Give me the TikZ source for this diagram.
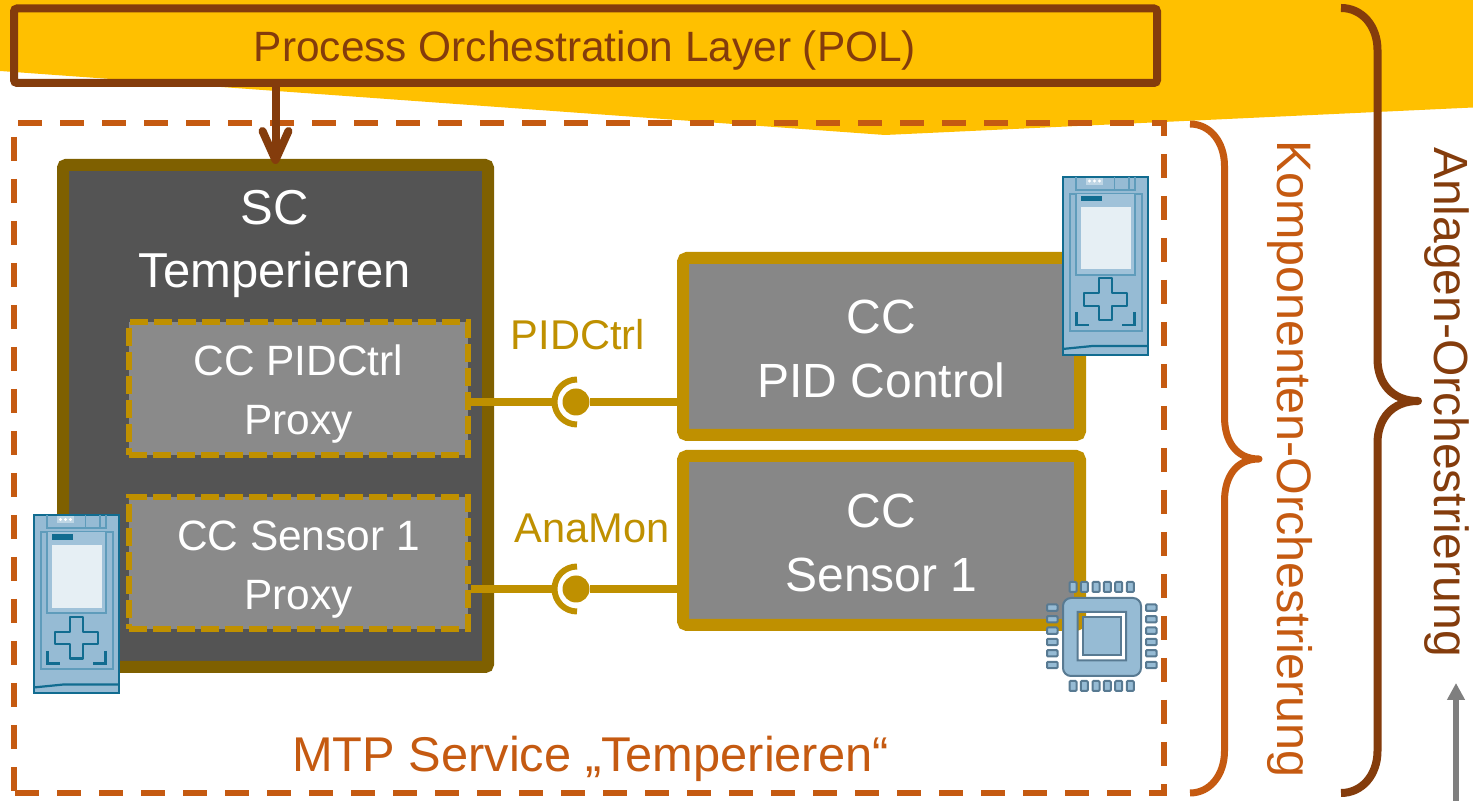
\documentclass[tikz,border=0pt]{standalone}
\usepackage{fontspec}
\setmainfont{Liberation Sans}
\usetikzlibrary{arrows.meta,calc}
\definecolor{polyellow}{HTML}{FFC000}
\definecolor{darkbrown}{HTML}{843C0C}
\definecolor{rust}{HTML}{C55A11}
\definecolor{gold}{HTML}{BF9000}
\definecolor{olivebrown}{HTML}{7F6000}
\definecolor{scfill}{HTML}{545454}
\definecolor{proxyfill}{HTML}{8A8A8A}
\definecolor{ccfill}{HTML}{878787}
\definecolor{plcbody}{HTML}{96BBD4}
\definecolor{plcpanel}{HTML}{A0C2D9}
\definecolor{plcdark}{HTML}{116C90}
\definecolor{plcmid}{HTML}{5F9CBB}
\definecolor{plcscreen}{HTML}{E6EFF4}
\definecolor{plctab}{HTML}{BFD6E5}
\definecolor{chipedge}{HTML}{587A92}
\definecolor{arrowgray}{HTML}{7F7F7F}
\tikzset{
  sized/.style 2 args={minimum width=#1*0.5pt,minimum height=#2*0.5pt,inner sep=0pt},
  bigtext/.style={font=\fontsize{24}{32}\selectfont},
  widetext/.style={font=\fontsize{24.5}{32}\selectfont},
  midtext/.style={font=\fontsize{21.2}{29.5}\selectfont},
  sidetext/.style={font=\fontsize{20.8}{29.5}\selectfont},
  scbox/.style={draw=olivebrown,fill=scfill,line width=6pt,rounded corners=1.5pt,text=white},
  proxybox/.style={draw=gold,fill=proxyfill,line width=3pt,dash pattern=on 9pt off 3pt,text=white,midtext,align=center},
  ccbox/.style={draw=gold,fill=ccfill,line width=6pt,rounded corners=2pt,text=white,bigtext,align=center},
  conn/.style={draw=gold,line width=4pt},
  ball/.style={circle,fill=gold,minimum size=13.5pt,inner sep=0pt},
  socket/.style={draw=gold,line width=3pt},
  boundary/.style={draw=rust,line width=3pt,dash pattern=on 12pt off 9pt},
  bracket/.style={line width=#1,line join=round},
  plc/.pic={
    \draw[plcdark,fill=plcbody,line width=1pt] (1,1) rectangle (86,179);
    \draw[plcmid,line width=1pt] (14.3,1) -- (14.3,14) -- (73.7,14) -- (73.7,1);
    \draw[plcmid,line width=.8pt] (53,1) -- (53,14) (67.7,1) -- (67.7,14);
    \fill[plctab] (24.3,1.7) rectangle (41,9);
    \fill[white] (28,5) circle (1.6) (33,5) circle (1.6) (38,5) circle (1.6);
    \draw[plcmid,line width=1pt] (8.3,18) rectangle (80.3,154.7);
    \draw[plcmid,fill=plcpanel,line width=1pt] (14.3,18) -- (14.3,99) -- (73.7,99) -- (73.7,18);
    \fill[plcdark] (19.3,20) rectangle (40.7,25.3);
    \fill[plcscreen] (19.3,30.7) rectangle (69,93.3);
    \draw[plcdark,line width=1.1pt,line join=round] (37.3,117.3) -- (37.3,102.3) -- (50.7,102.3) -- (50.7,117.3) -- (65.7,117.3) -- (65.7,129.7) -- (50.7,129.7) -- (50.7,144) -- (37.3,144) -- (37.3,129.7) -- (22.7,129.7) -- (22.7,117.3) -- cycle;
    \draw[plcdark,line width=1.1pt] (15,136.3) -- (15,149) -- (27.7,149);
    \draw[plcdark,line width=1.1pt] (73,136.3) -- (73,149) -- (60.3,149);
    \draw[plcdark,line width=1.1pt] (1,173) -- (31,170) -- (86,170);
  },
  chippin/.style={draw=chipedge,fill=plcbody,line width=1pt,rounded corners=.5pt},
}
\begin{document}
\begin{tikzpicture}[x=0.5pt,y=-0.5pt]
\useasboundingbox (0,0) rectangle (1473,801);
\fill[white] (0,0) rectangle (1473,801);
% yellow band
\fill[polyellow] (0,0) -- (1473,0) -- (1473,107.5) -- (885,135) -- (0,71) -- cycle;
% boundary of the MTP service
\path[boundary] (18,123.5) -- (1163.5,123.5) -- (1163.5,793) -- (14,793);
\path[boundary] (14,137) -- (14,791);
% POL
\node[draw=darkbrown,line width=4pt,rounded corners=1.5pt,sized={1143}{74.5}] (pol) at (585.5,45.75) {};
\node[anchor=base,text=darkbrown,midtext] (poltext) at (585,62) {Process Orchestration Layer (POL)};
% SC
\node[scbox,sized={425}{502}] (sc) at (275.5,416) {};
\node[anchor=base,text=white,widetext] (sctext) at (275,225) {SC};
\node[anchor=base,text=white,widetext] (sctext2) at (275,288) {Temperieren};
% arrow from POL to SC
\coordinate (scin) at (275.5,164);
\draw[darkbrown,line width=4pt,-{Straight Barb[length=14.5pt,width=13pt,line width=4pt,round]}] (pol.south -| scin) -- (scin);
% proxies
\node[proxybox,sized={339}{132.5}] (proxyA) at (298.5,388.75) {\rule{0pt}{21pt}CC PIDCtrl\\Proxy};
\node[proxybox,sized={339}{131.5}] (proxyB) at (298.5,563.25) {\rule{0pt}{21pt}CC Sensor 1\\Proxy};
% component boxes
\node[ccbox,sized={397}{177}] (ccA) at (881.5,346.5) {\rule{0pt}{19pt}CC\\PID Control};
\node[ccbox,sized={397}{169}] (ccB) at (881.5,540.5) {\rule{0pt}{19pt}CC\\Sensor 1};
% interfaces
\node[ball] (ballA) at (576,402) {};
\node[ball] (ballB) at (576,589) {};
\coordinate (arcA) at (555,402);
\coordinate (arcB) at (555,589);
\draw[conn] (proxyA.east |- arcA) -- (arcA);
\draw[conn] (ballA) -- (ballA -| ccA.west);
\draw[conn] (proxyB.east |- arcB) -- (arcB);
\draw[conn] (ballB) -- (ballB -| ccB.west);
\draw[socket] (577,379.5) arc[start angle=-90,end angle=-270,radius=22.5];
\draw[socket] (577,566.5) arc[start angle=-90,end angle=-270,radius=22.5];
\node[anchor=base,text=gold,sidetext] (pidlabel) at (578,350) {PIDCtrl};
\node[anchor=base,text=gold,sidetext] (analabel) at (592,543) {AnaMon};
% PLC icons
\pic (plcA) at (32.5,514.5) {plc};
\pic (plcB) at (1061.5,176) {plc};
% chip icon
\foreach \px in {1073,1084.3,1096,1107.3,1118.7,1130.3}{
  \draw[chippin] (\px-3.5,582) rectangle (\px+3.5,592);
  \draw[chippin] (\px-3.5,681) rectangle (\px+3.5,691);
}
\foreach \py in {607.7,619.3,630.7,642,653.3,665}{
  \draw[chippin] (1047,\py-3.2) rectangle (1057.5,\py+3.2);
  \draw[chippin] (1146,\py-3.2) rectangle (1156.5,\py+3.2);
}
\draw[chipedge,fill=plcbody,line width=1pt,even odd rule] [rounded corners=4pt] (1063,598) rectangle (1141,676) [sharp corners] (1077.5,612) rectangle (1126,660.5);
\draw[chipedge,fill=plcbody,line width=1pt] (1083,617.5) rectangle (1121,655.5);
% caption
\node[anchor=base,text=rust,font=\fontsize{24.4}{32}\selectfont] (mtplabel) at (590.5,771) {MTP Service „Temperieren“};
% braces
\draw[rust,bracket=3.5pt] (1190,124) .. controls (1210,124) and (1224.5,142) .. (1224.5,166) -- (1224.5,417) .. controls (1224.5,441) and (1236,459) .. (1259,459) .. controls (1236,459) and (1224.5,477) .. (1224.5,501) -- (1224.5,751) .. controls (1224.5,775) and (1210,793) .. (1190,793);
\draw[darkbrown,bracket=4pt] (1341,8) .. controls (1362,8) and (1377.5,26) .. (1377.5,50) -- (1377.5,359) .. controls (1377.5,383) and (1392,401) .. (1418,401) .. controls (1392,401) and (1377.5,419) .. (1377.5,443) -- (1377.5,751) .. controls (1377.5,775) and (1362,793) .. (1341,793);
% rotated labels
\node[rotate=-90,anchor=base,text=rust,font=\fontsize{24.2}{32}\selectfont] (komp) at (1277,459) {Komponenten-Orchestrierung};
\node[rotate=-90,anchor=base,text=darkbrown,bigtext] (anl) at (1434,402) {Anlagen-Orchestrierung};
% grey arrow
\coordinate (greyfrom) at (1456,801);
\coordinate (greyto) at (1456,683);
\draw[arrowgray,line width=3pt,-{Triangle[length=8.5pt,width=8.5pt]}] (greyfrom) -- (greyto);
\end{tikzpicture}
\end{document}
